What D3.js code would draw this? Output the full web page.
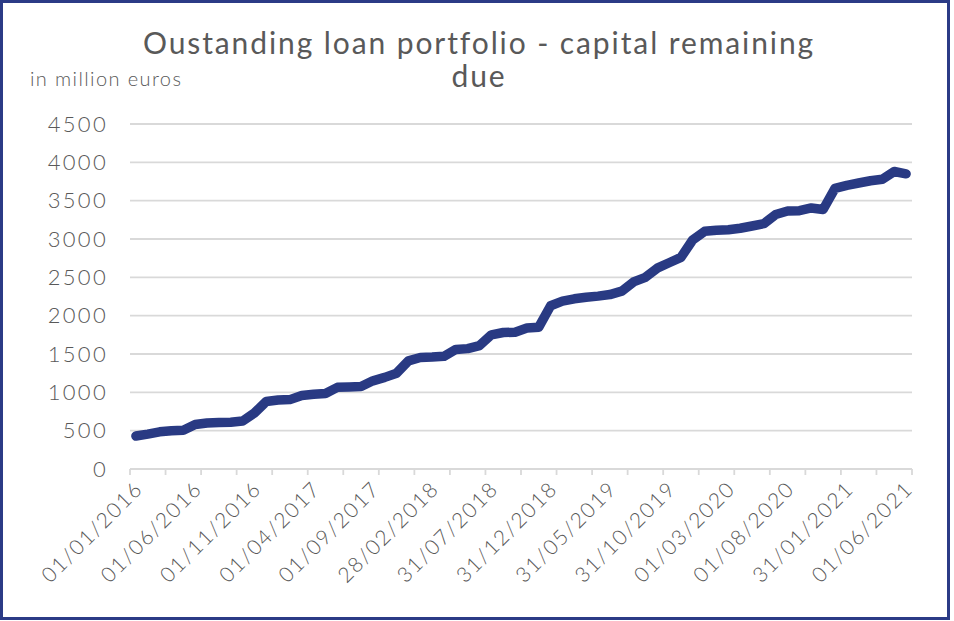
<!DOCTYPE html>
<html>
<head>
<meta charset="utf-8">
<script src="https://cdn.jsdelivr.net/npm/d3@7/dist/d3.min.js"></script>
<style>
  html, body { margin: 0; padding: 0; background: #fff; }
  svg { display: block; }
  text { font-family: "Lato", "Open Sans", sans-serif; fill: #595959; }
</style>
</head>
<body>
<svg id="chart" width="954" height="621"></svg>
<script>
// Month-end reporting dates of the portfolio
const dates = [
  "01/01/2016","01/02/2016","01/03/2016","01/04/2016","01/05/2016","01/06/2016",
  "01/07/2016","01/08/2016","01/09/2016","01/10/2016","01/11/2016","01/12/2016",
  "01/01/2017","01/02/2017","01/03/2017","01/04/2017","01/05/2017","01/06/2017",
  "01/07/2017","01/08/2017","01/09/2017","01/10/2017","01/11/2017","01/12/2017",
  "31/01/2018","28/02/2018","31/03/2018","30/04/2018","31/05/2018","30/06/2018",
  "31/07/2018","31/08/2018","30/09/2018","31/10/2018","30/11/2018","31/12/2018",
  "31/01/2019","28/02/2019","31/03/2019","30/04/2019","31/05/2019","30/06/2019",
  "31/07/2019","31/08/2019","30/09/2019","31/10/2019","30/11/2019","31/12/2019",
  "01/01/2020","01/02/2020","01/03/2020","01/04/2020","01/05/2020","01/06/2020",
  "01/07/2020","01/08/2020","01/09/2020","01/10/2020","01/11/2020","01/12/2020",
  "31/01/2021","01/02/2021","01/03/2021","01/04/2021","01/05/2021","01/06/2021"
];

// Capital remaining due, in million euros
const outstanding = [
  430, 455, 485, 500, 505, 580, 600, 605, 610, 625, 730, 880,
  900, 905, 960, 975, 985, 1065, 1070, 1075, 1150, 1195, 1250, 1410,
  1455, 1460, 1470, 1560, 1570, 1610, 1750, 1780, 1785, 1840, 1850, 2130,
  2190, 2220, 2240, 2255, 2275, 2320, 2440, 2500, 2620, 2690, 2760, 2990,
  3100, 3115, 3120, 3140, 3170, 3200, 3320, 3365, 3370, 3405, 3385, 3660,
  3700, 3730, 3760, 3780, 3880, 3850
];

const yTicks = [0, 500, 1000, 1500, 2000, 2500, 3000, 3500, 4000, 4500];
const labelEvery = 5;   // one date label every five months
const tickEvery = 3;    // one axis tick mark every three months

const titleLines = ["Oustanding loan portfolio - capital remaining", "due"];
const unitLabel = "in million euros";

const svg = d3.select("#chart");
const W = 954, H = 621;
const margin = { left: 130, right: 42, top: 124, bottom: 152 };
const plotW = W - margin.left - margin.right;
const plotH = H - margin.top - margin.bottom;

// frame
svg.append("rect")
  .attr("x", 1.5).attr("y", 1.5)
  .attr("width", 947).attr("height", 617)
  .attr("fill", "#fff")
  .attr("stroke", "#2b3b86")
  .attr("stroke-width", 3);

const g = svg.append("g").attr("transform", `translate(${margin.left},${margin.top})`);

const x = d3.scaleBand().domain(d3.range(dates.length)).range([0, plotW]).padding(0);
const y = d3.scaleLinear().domain([0, 4500]).range([plotH, 0]);

// horizontal gridlines
g.append("g")
  .selectAll("line")
  .data(yTicks.filter(v => v > 0))
  .join("line")
  .attr("x1", 0).attr("x2", plotW)
  .attr("y1", d => y(d)).attr("y2", d => y(d))
  .attr("stroke", "#d9d9d9")
  .attr("stroke-width", 1.8);

// y axis labels
const yAxis = d3.axisLeft(y).tickValues(yTicks).tickFormat(d3.format("d"))
  .tickSize(0).tickPadding(22);
const yG = g.append("g").call(yAxis);
yG.select(".domain").remove();
yG.selectAll("text")
  .style("font-size", "22px")
  .style("font-weight", 300)
  .attr("letter-spacing", "2.3px")
  .attr("fill", "#595959");

// x axis line with category tick marks
const xBase = g.append("g").attr("transform", `translate(0,${plotH})`);
xBase.append("line")
  .attr("x1", 0).attr("x2", plotW)
  .attr("stroke", "#d9d9d9").attr("stroke-width", 1.8);
const boundaries = d3.range(0, dates.length + 1, tickEvery);
xBase.selectAll("line.tick")
  .data(boundaries)
  .join("line")
  .attr("class", "tick")
  .attr("x1", d => d < dates.length ? x(d) : plotW)
  .attr("x2", d => d < dates.length ? x(d) : plotW)
  .attr("y1", 0).attr("y2", 6)
  .attr("stroke", "#d9d9d9").attr("stroke-width", 1.8);

// rotated date labels
const labelIdx = d3.range(0, dates.length, labelEvery);
xBase.selectAll("text.date")
  .data(labelIdx)
  .join("text")
  .attr("class", "date")
  .attr("transform", d => `translate(${x(d) + x.bandwidth() / 2 + 3},${16}) rotate(-45)`)
  .attr("text-anchor", "end")
  .attr("dy", "0.35em")
  .style("font-size", "21px")
  .style("font-weight", 300)
  .attr("letter-spacing", "1.7px")
  .text(d => dates[d]);

// the series
const line = d3.line()
  .x((d, i) => x(i) + x.bandwidth() / 2)
  .y(d => y(d));

g.append("path")
  .datum(outstanding)
  .attr("d", line)
  .attr("fill", "none")
  .attr("stroke", "#293a83")
  .attr("stroke-width", 9.5)
  .attr("stroke-linejoin", "round")
  .attr("stroke-linecap", "round");

// title
svg.append("g")
  .selectAll("text")
  .data(titleLines)
  .join("text")
  .attr("x", 479)
  .attr("y", (d, i) => 54 + i * 33)
  .attr("text-anchor", "middle")
  .style("font-size", "30px")
  .attr("letter-spacing", "1.9px")
  .text(d => d);

svg.append("text")
  .attr("x", 30).attr("y", 86)
  .style("font-size", "20px")
  .style("font-weight", 300)
  .attr("letter-spacing", "1.4px")
  .text(unitLabel);
</script>
</body>
</html>
